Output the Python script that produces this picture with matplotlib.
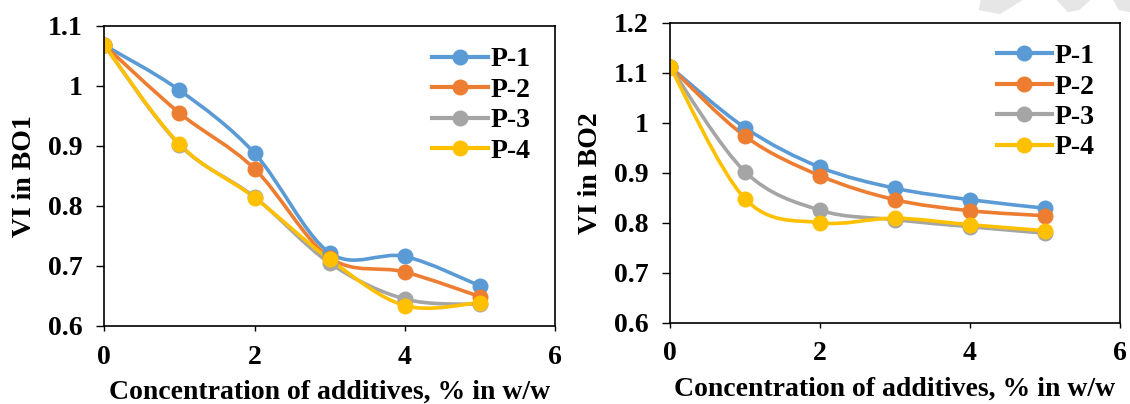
import numpy as np
import matplotlib
matplotlib.use("Agg")
import matplotlib.pyplot as plt
from matplotlib.path import Path
from matplotlib.patches import PathPatch, Polygon
from matplotlib.lines import Line2D

# matplotlib global parameters
matplotlib.rcParams["font.family"] = ["Liberation Serif", "DejaVu Serif"]
matplotlib.rcParams["font.weight"] = "bold"
matplotlib.rcParams["font.size"] = 20

# data
conc = [0, 1, 2, 3, 4, 5]
series_names = ["P-1", "P-2", "P-3", "P-4"]
colors = ["#5B9BD5", "#ED7D31", "#A5A5A5", "#FFC000"]

vi_bo1_p1 = [1.068, 0.993, 0.888, 0.722, 0.716, 0.667]
vi_bo1_p2 = [1.068, 0.955, 0.862, 0.714, 0.690, 0.649]
vi_bo1_p3 = [1.068, 0.902, 0.815, 0.705, 0.645, 0.636]
vi_bo1_p4 = [1.068, 0.903, 0.814, 0.711, 0.634, 0.639]

vi_bo2_p1 = [1.112, 0.990, 0.911, 0.869, 0.846, 0.829]
vi_bo2_p2 = [1.112, 0.973, 0.894, 0.846, 0.824, 0.814]
vi_bo2_p3 = [1.112, 0.902, 0.825, 0.806, 0.792, 0.779]
vi_bo2_p4 = [1.112, 0.848, 0.800, 0.809, 0.796, 0.784]


# Excel style smoothed line: Catmull-Rom converted to cubic Bezier segments
def smooth_path(x, y):
    pts = np.column_stack([x, y]).astype(float)
    n = len(pts)
    verts = [pts[0]]
    codes = [Path.MOVETO]
    for i in range(n - 1):
        p0 = pts[max(i - 1, 0)]
        p1 = pts[i]
        p2 = pts[i + 1]
        p3 = pts[min(i + 2, n - 1)]
        c1 = p1 + (p2 - p0) / 6.0
        c2 = p2 - (p3 - p1) / 6.0
        verts += [c1, c2, p2]
        codes += [Path.CURVE4] * 3
    return Path(verts, codes)


def draw_panel(ax, data, ylim, ylabel, legend_anchor):
    for vals, color in zip(data, colors):
        patch = PathPatch(smooth_path(conc, vals), facecolor="none", edgecolor=color,
                          linewidth=2.6, capstyle="round", joinstyle="round")
        ax.add_patch(patch)
        ax.plot(conc, vals, linestyle="none", marker="o", markersize=11.5,
                color=color, markeredgewidth=0)

    ax.set_xlim(0, 6)
    ax.set_ylim(*ylim)
    ax.set_xticks([0, 2, 4, 6])
    ax.set_yticks(np.round(np.arange(ylim[0], ylim[1] + 0.001, 0.1), 1))
    ax.yaxis.set_major_formatter(matplotlib.ticker.FuncFormatter(lambda v, p: f"{v:g}"))
    ax.tick_params(axis="x", direction="out", length=3.5, width=1, pad=10, labelsize=20)
    ax.tick_params(axis="y", direction="out", length=5.5, width=1, pad=10, labelsize=20)
    for sp in ax.spines.values():
        sp.set_linewidth(1.2)
        sp.set_color("black")
    ax.set_xlabel("Concentration of additives, % in w/w", fontsize=20, fontweight="bold", labelpad=7)
    ax.set_ylabel(ylabel, fontsize=20, fontweight="bold", labelpad=8)

    handles = [Line2D([0], [0], color=c, linewidth=3, marker="o", markersize=11.5,
                      markeredgewidth=0) for c in colors]
    leg = ax.legend(handles, series_names, loc="upper left", bbox_to_anchor=legend_anchor,
                    frameon=False, borderpad=0, borderaxespad=0, handlelength=2.0,
                    handletextpad=0.1, labelspacing=0.18, fontsize=20)
    for t in leg.get_texts():
        t.set_fontweight("bold")


fig = plt.figure(figsize=(11.3, 4.04), dpi=100)
ax1 = fig.add_axes([0.0923, 0.1931, 0.3988, 0.7426])
ax2 = fig.add_axes([0.5929, 0.2012, 0.3982, 0.7426])

draw_panel(ax1, [vi_bo1_p1, vi_bo1_p2, vi_bo1_p3, vi_bo1_p4], (0.6, 1.1), "VI in BO1", (0.728, 0.93))
draw_panel(ax2, [vi_bo2_p1, vi_bo2_p2, vi_bo2_p3, vi_bo2_p4], (0.6, 1.2), "VI in BO2", (0.726, 0.93))

# faint watermark pieces at top right corner
for poly in [
    [(0.868, 1.0), (0.905, 1.0), (0.885, 0.965), (0.866, 0.975)],
    [(0.935, 1.0), (0.965, 1.0), (0.955, 0.975), (0.945, 0.97)],
    [(0.985, 1.0), (1.0, 1.0), (1.0, 0.97), (0.99, 0.975)],
]:
    fig.patches.append(Polygon(poly, closed=True, transform=fig.transFigure,
                               facecolor="#e6e6e6", edgecolor="none", zorder=-1))

plt.savefig("out.png", dpi=100)
